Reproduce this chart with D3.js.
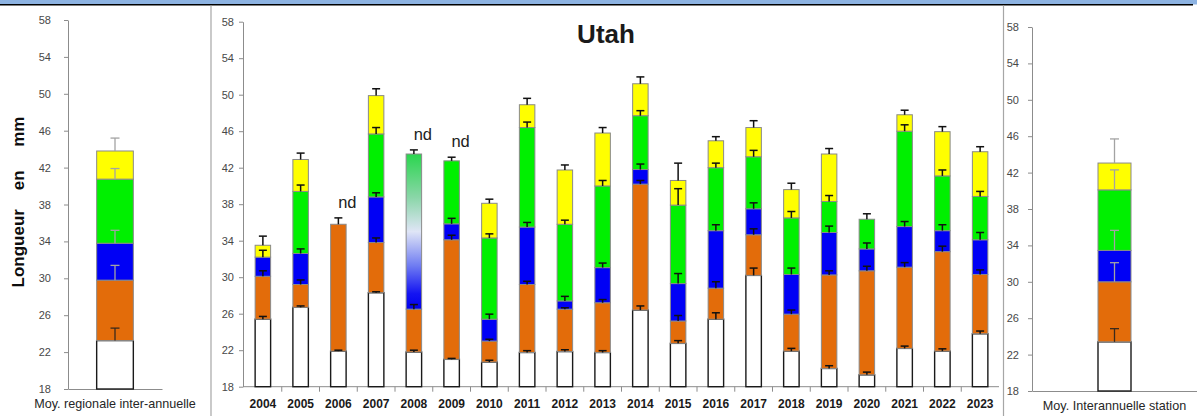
<!DOCTYPE html>
<html>
<head>
<meta charset="utf-8">
<script src="https://cdn.jsdelivr.net/npm/d3@7"></script>
<style>
  html, body { margin: 0; padding: 0; background: #fff; }
  svg { display: block; font-family: "Liberation Sans", Arial, sans-serif; }
</style>
</head>
<body>
<svg id="chart" width="1197" height="416"></svg>
<script>
// ---- data -------------------------------------------------------------
const years = [2004, 2005, 2006, 2007, 2008, 2009, 2010, 2011, 2012, 2013,
               2014, 2015, 2016, 2017, 2018, 2019, 2020, 2021, 2022, 2023];

// cumulative level (mm) reached at the top of each stacked class; null = no data
const whiteTop  = [25.4, 26.7, 21.9, 28.3, 21.8, 21.0, 20.7, 21.75, 21.85, 21.75,
                   26.4, 22.75, 25.4, 30.2, 21.9, 20.0, 19.3, 22.2, 21.9, 23.8];
const orangeTop = [30.1, 29.2, 35.8, 33.8, 26.5, 34.1, 23.0, 29.2, 26.5, 27.2,
                   40.2, 25.2, 28.8, 34.65, 25.95, 30.25, 30.7, 31.1, 32.8, 30.3];
const blueTop   = [32.2, 32.6, null, 38.8, null, 35.85, 25.4, 35.5, 27.4, 31.05,
                   41.8, 29.3, 35.1, 37.5, 30.3, 34.9, 33.1, 35.55, 35.1, 34.1];
const greenTop  = [null, 39.4, null, 45.7, 43.5, 42.75, 34.3, 46.4, 35.8, 40.0,
                   47.7, 37.9, 42.0, 43.2, 36.5, 38.3, 36.35, 46.0, 41.1, 38.85];
const yellowTop = [33.5, 42.9, null, 49.9, null, null, 38.1, 48.9, 41.75, 45.8,
                   51.2, 40.6, 44.95, 46.4, 39.6, 43.5, null, 47.8, 45.95, 43.75];

// standard deviation drawn above each class top
const whiteErr  = [0.3, 0.15, 0.1, 0.1, 0.2, 0.1, 0.2, 0.2, 0.2, 0.2,
                   0.45, 0.3, 0.7, 0.8, 0.3, 0.3, 0.3, 0.25, 0.25, 0.3];
const orangeErr = [0.6, 0.5, 0.7, 0.5, 0.5, 0.5, 0.2, 0.35, 0.15, 0.35,
                   0.4, 0.6, 0.7, 0.65, 0.45, 0.45, 0.5, 0.5, 0.6, 0.5];
const blueErr   = [0.75, 0.5, null, 0.45, null, 0.6, 0.55, 0.5, 0.5, 0.5,
                   0.6, 1.1, 0.65, 0.65, 0.7, 0.7, 0.65, 0.55, 0.65, 0.8];
const greenErr  = [null, 0.7, null, 0.7, 0.45, 0.4, 0.45, 0.6, 0.45, 0.6,
                   0.55, 1.8, 0.5, 0.7, 0.7, 0.65, 0.6, 0.7, 0.65, 0.55];
const yellowErr = [1.0, 0.7, null, 0.75, null, null, 0.45, 0.7, 0.55, 0.6,
                   0.75, 1.9, 0.45, 0.75, 0.7, 0.6, null, 0.5, 0.55, 0.55];

// years where classes could not be told apart
const ndYears = [2006, 2008, 2009];
// year where blue and green classes are merged in one blended segment
const blendedYears = [2008];

// inter-annual means
const regionalLabel = "Moy. regionale inter-annuelle";
const regionalTops  = [23.25, 29.8, 33.8, 40.75, 43.8];
const regionalErr   = [1.35, 1.6, 1.4, 1.15, 1.4];
const stationLabel  = "Moy. Interannuelle station";
const stationTops   = [23.4, 30.0, 33.45, 40.1, 43.05];
const stationErr    = [1.45, 2.1, 2.2, 2.2, 2.65];

const yTickValues = [18, 22, 26, 30, 34, 38, 42, 46, 50, 54, 58];
const title = "Utah";
const yLabel = "Longueur    en     mm";

// ---- styles -------------------------------------------------------------
const classColors = ["#ffffff", "#e36c0a", "#0000f5", "#00f000", "#ffff00"];
const axisGrey = "#8c8c8c";
const tickText = "#484848";

const svg = d3.select("#chart");

// blended blue/green fill
const defs = svg.append("defs");
const grad = defs.append("linearGradient")
  .attr("id", "blend").attr("x1", 0).attr("y1", 0).attr("x2", 0).attr("y2", 1);
[[0, "#2ad64e"], [0.28, "#8ad6a8"], [0.5, "#dfe5f6"], [0.72, "#6f7cf2"],
 [0.9, "#1414f2"], [1, "#0000ee"]].forEach(([o, c]) =>
  grad.append("stop").attr("offset", o).attr("stop-color", c));

// header strip
svg.append("rect").attr("x", 0).attr("y", 0).attr("width", 1197).attr("height", 4.5)
  .attr("fill", "#8db3e2");
svg.append("line").attr("x1", 0).attr("x2", 1193).attr("y1", 4.8).attr("y2", 4.8)
  .attr("stroke", "#000").attr("stroke-width", 1.5);

// panel separators
[211, 1003.5].forEach(x =>
  svg.append("line").attr("x1", x).attr("x2", x).attr("y1", 5.5).attr("y2", 416)
    .attr("stroke", "#a6a6a6").attr("stroke-width", 1.2));

function styleYAxis(g) {
  g.select(".domain").attr("stroke", axisGrey);
  g.selectAll(".tick line").attr("stroke", axisGrey);
  g.selectAll(".tick text").attr("fill", tickText).style("font-size", "11px");
}

// draws one stacked column; levels/errs aligned with classColors
function drawStack(g, y, cx, w, levels, errs, opts) {
  let base = 18;
  levels.forEach((top, i) => {
    if (top == null) return;
    const fill = (opts.blendIndex === i) ? "url(#blend)" : classColors[i];
    g.append("rect")
      .attr("x", cx - w / 2).attr("width", w)
      .attr("y", y(top)).attr("height", y(base) - y(top))
      .attr("fill", fill)
      .attr("stroke", i === 0 ? "#1a1a1a" : "#8a8a8a")
      .attr("stroke-width", i === 0 ? 1.4 : 1);
    base = top;
  });
  levels.forEach((top, i) => {
    if (top == null || errs[i] == null) return;
    const col = opts.errColor(i);
    const y0 = y(top), y1 = y(top + errs[i]);
    g.append("line").attr("x1", cx).attr("x2", cx).attr("y1", y0).attr("y2", y1)
      .attr("stroke", col).attr("stroke-width", opts.errWidth);
    g.append("line").attr("x1", cx - opts.cap / 2).attr("x2", cx + opts.cap / 2)
      .attr("y1", y1).attr("y2", y1)
      .attr("stroke", col).attr("stroke-width", opts.errWidth);
  });
}

// ---- side panels ---------------------------------------------------------
function sidePanel(label, tops, errs, xr, yr, widthFrac, pad) {
  const y = d3.scaleLinear().domain([18, 58]).range(yr);
  const x = d3.scaleBand().domain([label]).range(xr).padding(0);
  const g = svg.append("g");
  g.append("g").attr("transform", `translate(${xr[0]},0)`)
    .call(d3.axisLeft(y).tickValues(yTickValues).tickSize(4).tickPadding(pad)
      .tickSizeOuter(0))
    .call(styleYAxis);
  const xa = g.append("g").attr("transform", `translate(0,${yr[0]})`)
    .call(d3.axisBottom(x).tickSize(0).tickPadding(10).tickSizeOuter(0));
  xa.select(".domain").attr("stroke", axisGrey);
  xa.selectAll(".tick text").attr("fill", "#262626").style("font-size", "12.6px");
  const cx = x(label) + x.bandwidth() / 2;
  drawStack(g, y, cx, x.bandwidth() * widthFrac, tops, errs, {
    errColor: i => i === 0 ? "#3b2a1c" : "#a3a3a3",
    errWidth: 1.3, cap: 9
  });
}

sidePanel(regionalLabel, regionalTops, regionalErr, [68, 162], [389, 20], 0.39, 13);
sidePanel(stationLabel, stationTops, stationErr, [1032, 1197], [391, 27], 0.2, 9);

// y label
svg.append("text")
  .attr("transform", "translate(24,202) rotate(-90)")
  .attr("text-anchor", "middle")
  .style("white-space", "pre")
  .style("font-size", "17px").style("font-weight", "bold")
  .attr("fill", "#0d0d0d")
  .text(yLabel);

// ---- yearly panel ------------------------------------------------------
const yC = d3.scaleLinear().domain([18, 58]).range([386.7, 21.7]);
const xC = d3.scaleBand().domain(years).range([244, 999])
  .paddingInner(0.59).paddingOuter(0.295);

const gc = svg.append("g");
gc.append("g").attr("transform", "translate(243,0)")
  .call(d3.axisLeft(yC).tickValues(yTickValues).tickSize(4).tickPadding(5)
    .tickSizeOuter(0))
  .call(styleYAxis);

const xAxisG = gc.append("g").attr("transform", `translate(0,${yC(18)})`)
  .call(d3.axisBottom(xC).tickSize(0).tickPadding(13).tickSizeOuter(0));
xAxisG.select(".domain").attr("stroke", axisGrey).attr("d", `M243,0H999`);
xAxisG.selectAll(".tick text").attr("fill", "#1a1a1a")
  .style("font-size", "12px").style("font-weight", "bold");

// category separators under the axis
const step = xC.step();
years.slice(1).forEach(yr => {
  const bx = xC(yr) + xC.bandwidth() / 2 - step / 2;
  xAxisG.append("line").attr("x1", bx).attr("x2", bx).attr("y1", 0).attr("y2", 5)
    .attr("stroke", axisGrey);
});

years.forEach((yr, i) => {
  const levels = [whiteTop[i], orangeTop[i], blueTop[i], greenTop[i], yellowTop[i]];
  const errs = [whiteErr[i], orangeErr[i], blueErr[i], greenErr[i], yellowErr[i]];
  const cx = xC(yr) + xC.bandwidth() / 2;
  drawStack(gc, yC, cx, xC.bandwidth(), levels, errs, {
    blendIndex: blendedYears.includes(yr) ? 3 : -1,
    errColor: () => "#111",
    errWidth: 1.5, cap: 8
  });
  if (ndYears.includes(yr)) {
    const tops = levels.map((v, k) => v == null ? null : v + (errs[k] || 0))
      .filter(v => v != null);
    gc.append("text")
      .attr("x", cx + 9).attr("y", yC(d3.max(tops)) - 10)
      .attr("text-anchor", "middle")
      .style("font-size", "16.5px").attr("fill", "#222")
      .text("nd");
  }
});

svg.append("text").attr("x", 606).attr("y", 43)
  .attr("text-anchor", "middle")
  .style("font-size", "26px").style("font-weight", "bold").attr("fill", "#1a1a1a")
  .text(title);
</script>
</body>
</html>
